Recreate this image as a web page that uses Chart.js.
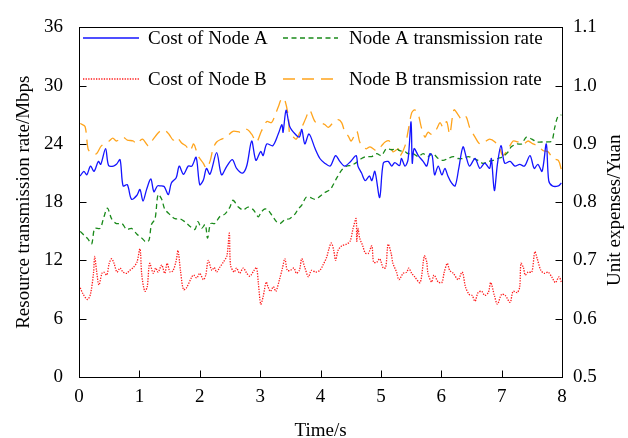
<!DOCTYPE html>
<html>
<head>
<meta charset="utf-8">
<script src="https://cdn.jsdelivr.net/npm/chart.js@4.4.1/dist/chart.umd.min.js"></script>
<style>
  html, body { margin: 0; padding: 0; background: #fff; }
  #wrap { width: 628px; height: 438px; }
</style>
</head>
<body>
<div id="wrap"><canvas id="chart" width="628" height="438"></canvas></div>
<script>
// Cost of Node A (Yuan, right axis)
const tCostA = [0.02,0.08,0.13,0.19,0.25,0.32,0.36,0.44,0.49,0.57,0.62,0.68,0.73,0.80,0.87,0.96,1.01,1.06,1.12,1.19,1.24,1.30,1.35,1.41,1.48,1.53,1.61,1.66,1.73,1.81,1.87,1.94,2.00,2.06,2.11,2.17,2.28,2.36,2.45,2.54,2.61,2.71,2.78,2.86,2.93,3.01,3.05,3.11,3.21,3.30,3.36,3.38,3.43,3.49,3.58,3.65,3.69,3.74,3.81,3.91,3.99,4.07,4.16,4.25,4.32,4.40,4.50,4.59,4.62,4.68,4.74,4.81,4.85,4.90,4.98,5.04,5.12,5.18,5.23,5.31,5.34,5.40,5.45,5.50,5.52,5.55,5.62,5.70,5.76,5.81,5.85,5.89,5.95,6.01,6.06,6.11,6.17,6.23,6.29,6.36,6.42,6.47,6.56,6.64,6.72,6.80,6.83,6.88,6.93,6.99,7.05,7.14,7.22,7.30,7.38,7.47,7.54,7.60,7.67,7.74,7.78,7.84,7.94,7.99];
const costA = [0.845,0.853,0.847,0.862,0.853,0.870,0.865,0.892,0.863,0.862,0.865,0.873,0.828,0.830,0.805,0.812,0.822,0.802,0.822,0.840,0.818,0.828,0.828,0.827,0.813,0.833,0.842,0.862,0.848,0.862,0.862,0.877,0.830,0.838,0.858,0.848,0.885,0.847,0.862,0.873,0.858,0.850,0.863,0.905,0.872,0.887,0.880,0.900,0.897,0.917,0.933,0.920,0.958,0.930,0.917,0.912,0.925,0.900,0.917,0.892,0.875,0.867,0.862,0.880,0.870,0.862,0.870,0.880,0.862,0.850,0.837,0.845,0.837,0.853,0.808,0.867,0.870,0.862,0.868,0.863,0.875,0.862,0.873,0.938,0.867,0.892,0.880,0.870,0.862,0.883,0.880,0.847,0.862,0.847,0.858,0.845,0.833,0.828,0.858,0.895,0.875,0.862,0.875,0.858,0.867,0.858,0.875,0.820,0.865,0.897,0.867,0.870,0.862,0.865,0.862,0.880,0.858,0.865,0.853,0.900,0.837,0.828,0.828,0.833];

// Node A transmission rate (Mbps, left axis)
const tRateA = [0.02,0.10,0.15,0.21,0.26,0.35,0.40,0.47,0.54,0.62,0.71,0.79,0.87,0.96,1.04,1.11,1.16,1.20,1.26,1.31,1.37,1.42,1.51,1.59,1.67,1.75,1.84,1.92,1.97,2.03,2.09,2.13,2.18,2.25,2.33,2.42,2.50,2.55,2.64,2.72,2.80,2.89,2.97,3.02,3.08,3.13,3.19,3.27,3.33,3.41,3.49,3.58,3.63,3.69,3.76,3.82,3.91,3.99,4.07,4.16,4.21,4.27,4.35,4.43,4.51,4.60,4.68,4.76,4.85,4.93,5.01,5.09,5.18,5.26,5.31,5.40,5.45,5.53,5.62,5.70,5.78,5.86,5.95,6.03,6.11,6.20,6.28,6.36,6.45,6.53,6.61,6.69,6.78,6.86,6.94,7.02,7.11,7.16,7.25,7.33,7.41,7.50,7.58,7.66,7.74,7.83,7.88,7.93,7.99];
const rateA = [15.0,14.5,14.2,13.7,15.3,15.3,16.2,17.4,16.3,15.8,15.8,15.2,15.3,14.7,14.3,13.9,14.1,15.7,16.3,18.8,18.3,17.3,16.7,16.3,16.3,16.0,15.5,15.2,16.0,15.3,15.7,14.3,15.8,15.8,16.5,16.8,17.5,18.2,17.5,17.2,17.5,17.2,16.5,17.0,17.3,17.2,16.7,16.0,15.8,16.2,16.3,16.8,17.3,17.7,18.5,18.5,18.3,18.6,19.0,19.3,19.8,20.5,21.3,21.7,21.8,22.1,22.5,22.7,22.7,23.0,22.8,23.5,23.4,23.5,23.3,23.2,23.0,23.0,22.7,23.0,22.7,23.0,22.5,22.3,22.5,22.7,22.5,22.5,22.7,22.5,22.3,22.0,22.2,22.3,22.5,22.7,23.2,23.7,24.0,24.0,24.7,24.5,24.2,24.2,24.2,24.3,25.7,26.8,27.0];

// Cost of Node B (Yuan, right axis)
const tCostB = [0.02,0.07,0.14,0.19,0.24,0.26,0.29,0.33,0.38,0.41,0.46,0.50,0.54,0.58,0.63,0.68,0.73,0.79,0.84,0.90,0.96,1.01,1.04,1.09,1.13,1.17,1.23,1.27,1.31,1.37,1.42,1.46,1.51,1.56,1.61,1.64,1.68,1.73,1.78,1.87,1.90,1.95,2.00,2.06,2.10,2.14,2.20,2.24,2.28,2.33,2.39,2.45,2.49,2.51,2.57,2.61,2.66,2.72,2.78,2.83,2.90,2.94,2.97,3.01,3.05,3.10,3.13,3.17,3.22,3.26,3.32,3.37,3.41,3.45,3.50,3.56,3.60,3.65,3.69,3.74,3.80,3.85,3.92,3.99,4.04,4.10,4.14,4.18,4.22,4.25,4.29,4.35,4.43,4.49,4.54,4.59,4.60,4.62,4.65,4.70,4.74,4.79,4.85,4.88,4.93,4.98,5.04,5.08,5.12,5.17,5.20,5.26,5.30,5.37,5.43,5.46,5.51,5.56,5.65,5.72,5.76,5.78,5.84,5.88,5.95,6.01,6.05,6.10,6.14,6.20,6.28,6.34,6.36,6.40,6.46,6.51,6.56,6.61,6.67,6.72,6.78,6.82,6.88,6.93,7.00,7.06,7.14,7.19,7.26,7.30,7.32,7.36,7.39,7.44,7.50,7.55,7.59,7.65,7.71,7.77,7.84,7.89,7.95,7.99];
const costB = [0.653,0.642,0.633,0.642,0.678,0.707,0.683,0.658,0.678,0.680,0.675,0.695,0.703,0.695,0.680,0.687,0.680,0.678,0.683,0.688,0.697,0.720,0.675,0.647,0.655,0.695,0.678,0.687,0.680,0.692,0.678,0.695,0.680,0.683,0.700,0.717,0.683,0.650,0.653,0.672,0.675,0.670,0.678,0.667,0.675,0.700,0.683,0.688,0.680,0.688,0.697,0.708,0.747,0.692,0.680,0.687,0.678,0.687,0.678,0.673,0.683,0.688,0.662,0.625,0.638,0.663,0.655,0.647,0.655,0.647,0.667,0.687,0.703,0.683,0.683,0.687,0.678,0.683,0.703,0.688,0.672,0.683,0.680,0.683,0.692,0.705,0.720,0.730,0.717,0.700,0.717,0.725,0.728,0.733,0.755,0.772,0.733,0.755,0.738,0.725,0.713,0.712,0.725,0.697,0.697,0.703,0.687,0.688,0.728,0.712,0.695,0.680,0.667,0.678,0.680,0.687,0.678,0.672,0.662,0.708,0.697,0.678,0.663,0.675,0.663,0.662,0.680,0.695,0.683,0.678,0.667,0.680,0.678,0.655,0.642,0.640,0.630,0.645,0.647,0.640,0.645,0.662,0.640,0.625,0.642,0.640,0.628,0.647,0.645,0.655,0.695,0.688,0.675,0.680,0.680,0.715,0.703,0.683,0.678,0.680,0.670,0.662,0.672,0.663];

// Node B transmission rate (Mbps, left axis)
const tRateB = [0.02,0.10,0.15,0.21,0.29,0.37,0.50,0.56,0.62,0.73,0.80,0.90,0.95,1.05,1.15,1.23,1.34,1.42,1.49,1.56,1.62,1.70,1.77,1.84,1.90,1.97,2.06,2.11,2.17,2.22,2.28,2.36,2.44,2.55,2.69,2.78,2.86,2.94,3.02,3.11,3.19,3.25,3.30,3.36,3.41,3.47,3.49,3.55,3.60,3.69,3.76,3.82,3.91,3.99,4.07,4.13,4.21,4.29,4.35,4.40,4.46,4.51,4.60,4.65,4.71,4.76,4.82,4.93,5.01,5.07,5.14,5.20,5.29,5.31,5.40,5.45,5.51,5.56,5.62,5.67,5.73,5.78,5.84,5.92,5.98,6.03,6.09,6.14,6.21,6.28,6.34,6.41,6.47,6.56,6.64,6.72,6.80,6.89,6.97,7.02,7.11,7.19,7.27,7.36,7.44,7.52,7.60,7.69,7.77,7.85,7.94,7.99];
const rateB = [26.1,25.8,23.5,23.0,23.0,23.8,24.3,24.6,24.3,24.7,24.4,24.3,24.0,24.5,23.8,24.5,25.3,25.4,25.0,24.4,24.7,24.1,23.8,23.3,24.0,22.8,22.0,21.5,22.2,23.5,24.2,24.5,24.7,25.3,25.2,25.5,25.0,24.2,25.3,26.3,26.2,27.0,27.8,28.7,28.5,26.7,25.0,24.7,24.5,25.7,26.7,27.5,26.3,26.2,26.0,25.7,26.2,26.5,26.2,25.3,24.8,24.3,25.3,24.2,23.7,23.5,23.7,23.3,23.8,24.2,24.3,23.2,23.5,22.7,23.8,25.3,27.2,27.5,27.0,25.7,24.7,25.2,25.0,25.5,26.2,25.7,26.3,25.0,27.5,27.0,26.5,26.8,25.7,24.7,24.0,24.2,24.5,24.2,23.5,22.8,23.5,24.3,24.2,24.0,24.3,24.0,23.8,23.3,23.2,22.5,22.3,21.3];

const xTicks = [0, 1, 2, 3, 4, 5, 6, 7, 8];
const leftTicks = [0, 6, 12, 18, 24, 30, 36];
const rightTicks = [0.5, 0.6, 0.7, 0.8, 0.9, 1.0, 1.1];

const FONT = 'Liberation Serif, Times New Roman, serif';
const pts = (xs, ys) => xs.map((x, i) => ({ x: x, y: ys[i] }));

// legend in two columns inside the plot, drawn from the datasets
const legendBox = {
  id: 'legendBox',
  afterDatasetsDraw(chart) {
    const ctx = chart.ctx;
    const cols = [[83, 139, 148], [283, 338, 349]];
    const rows = [38, 79];
    ctx.save();
    chart.data.datasets.forEach((ds, k) => {
      const c = cols[k % 2], y = rows[Math.floor(k / 2)];
      ctx.beginPath();
      ctx.strokeStyle = ds.borderColor;
      ctx.lineWidth = ds.borderWidth;
      ctx.setLineDash(ds.borderDash || []);
      ctx.moveTo(c[0], y);
      ctx.lineTo(c[1], y);
      ctx.stroke();
      ctx.setLineDash([]);
      ctx.fillStyle = '#000';
      ctx.font = '19px ' + FONT;
      ctx.textBaseline = 'middle';
      ctx.textAlign = 'left';
      ctx.fillText(ds.label, c[2], y + 1);
    });
    ctx.restore();
  }
};

// box round the plot, inward ticks, right axis title
const frame = {
  id: 'frame',
  afterDraw(chart) {
    const ctx = chart.ctx;
    const a = chart.chartArea;
    const sx = chart.scales.x, sy = chart.scales.y, sy1 = chart.scales.y1;
    const L = Math.round(a.left) + 0.5, R = Math.round(a.right) + 0.5;
    const T = Math.round(a.top) + 0.5, B = Math.round(a.bottom) + 0.5;
    ctx.save();
    ctx.strokeStyle = '#000';
    ctx.lineWidth = 1;
    ctx.strokeRect(L, T, R - L, B - T);
    ctx.beginPath();
    xTicks.forEach(v => {
      const px = Math.round(sx.getPixelForValue(v)) + 0.5;
      ctx.moveTo(px, B); ctx.lineTo(px, B - 7);
    });
    leftTicks.forEach(v => {
      const py = Math.round(sy.getPixelForValue(v)) + 0.5;
      ctx.moveTo(L, py); ctx.lineTo(L + 7, py);
    });
    rightTicks.forEach(v => {
      const py = Math.round(sy1.getPixelForValue(v)) + 0.5;
      ctx.moveTo(R, py); ctx.lineTo(R - 7, py);
    });
    ctx.stroke();

    ctx.translate(615, (a.top + a.bottom) / 2 + 8);
    ctx.rotate(-Math.PI / 2);
    ctx.fillStyle = '#000';
    ctx.font = '19px ' + FONT;
    ctx.textAlign = 'center';
    ctx.textBaseline = 'middle';
    ctx.fillText('Unit expenses/Yuan', 0, 0);
    ctx.restore();
  }
};

const tickFont = { family: FONT, size: 19 };

new Chart(document.getElementById('chart'), {
  type: 'line',
  data: {
    datasets: [
      { label: 'Cost of Node A', data: pts(tCostA, costA), yAxisID: 'y1',
        borderColor: '#1414ff', borderWidth: 1.3, borderDash: [] },
      { label: 'Node A transmission rate', data: pts(tRateA, rateA), yAxisID: 'y',
        borderColor: '#1a8a1a', borderWidth: 1.3, borderDash: [5, 3.5] },
      { label: 'Cost of Node B', data: pts(tCostB, costB), yAxisID: 'y1',
        borderColor: '#ff1a1a', borderWidth: 1.3, borderDash: [1.3, 1.3] },
      { label: 'Node B transmission rate', data: pts(tRateB, rateB), yAxisID: 'y',
        borderColor: '#ffa41c', borderWidth: 1.3, borderDash: [12, 7] }
    ]
  },
  options: {
    responsive: false,
    animation: false,
    layout: { padding: { top: 17, left: 0, right: 0, bottom: 0 } },
    elements: { point: { radius: 0 }, line: { tension: 0.3, fill: false } },
    plugins: { legend: { display: false }, tooltip: { enabled: false } },
    scales: {
      x: {
        type: 'linear', min: 0, max: 8,
        afterBuildTicks: s => { s.ticks = xTicks.map(v => ({ value: v })); },
        ticks: { font: tickFont, color: '#000', padding: 9, maxRotation: 0 },
        grid: { display: false, drawTicks: false },
        border: { display: false },
        title: { display: true, text: 'Time/s', font: tickFont, color: '#000', padding: { top: 0, bottom: -4 } },
        afterFit: s => { s.height = 61; }
      },
      y: {
        position: 'left', min: 0, max: 36,
        afterBuildTicks: s => { s.ticks = leftTicks.map(v => ({ value: v })); },
        ticks: { font: tickFont, color: '#000', padding: 16 },
        grid: { display: false, drawTicks: false },
        border: { display: false },
        title: { display: true, text: 'Resource transmission rate/Mbps', font: tickFont, color: '#000', padding: { top: 13, bottom: 0 } },
        afterFit: s => { s.width = 79; }
      },
      y1: {
        position: 'right', min: 0.5, max: 1.1,
        afterBuildTicks: s => { s.ticks = rightTicks.map(v => ({ value: v })); },
        ticks: { font: tickFont, color: '#000', padding: 11, callback: v => Number(v).toFixed(1) },
        grid: { display: false, drawTicks: false },
        border: { display: false },
        afterFit: s => { s.width = 66; }
      }
    }
  },
  plugins: [legendBox, frame]
});
</script>
</body>
</html>
